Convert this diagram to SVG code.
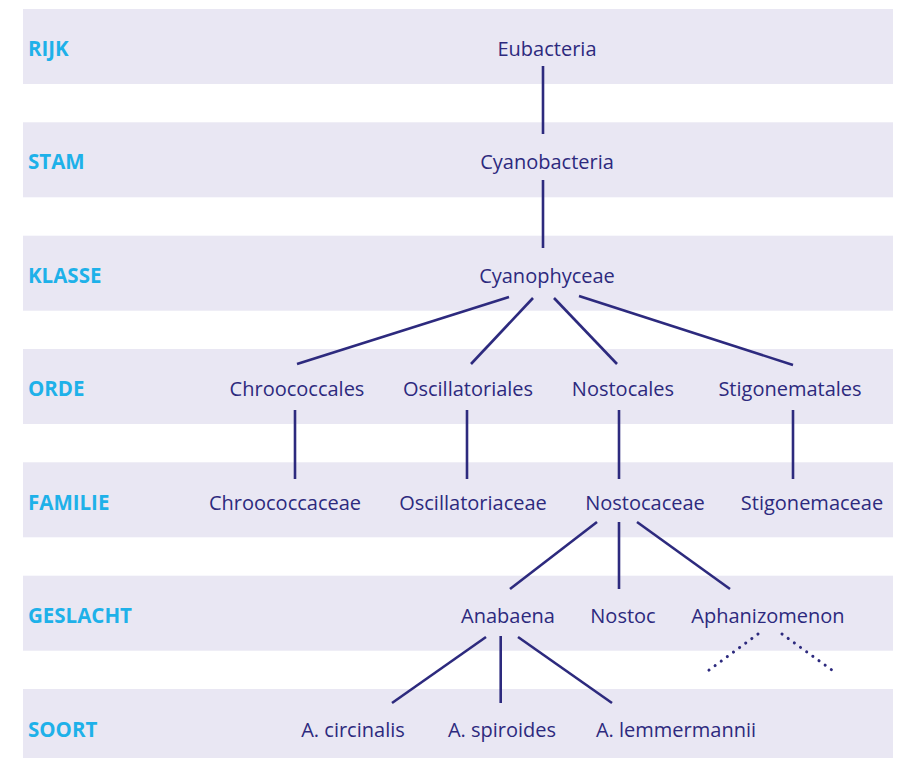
<svg xmlns="http://www.w3.org/2000/svg" width="905" height="758" viewBox="0 0 905 758">
<style>
.band{fill:#e9e7f3}
.lbl{font-family:"Open Sans","Liberation Sans",sans-serif;font-weight:bold;font-size:20.5px;fill:#1eb1e9}
.t{font-family:"Open Sans","Liberation Sans",sans-serif;font-size:20px;fill:#2d2a7e;text-anchor:middle}
.c line{stroke:#2d2a7e;stroke-width:2.6}
.d line{stroke:#2d2a7e;stroke-width:3;stroke-dasharray:0.1 7.5;stroke-linecap:round}
</style>
<rect width="905" height="758" fill="#ffffff"/>
<g id="bands">
<rect class="band" x="23" y="9" width="870" height="75"/>
<rect class="band" x="23" y="122.3" width="870" height="75"/>
<rect class="band" x="23" y="235.7" width="870" height="75"/>
<rect class="band" x="23" y="349" width="870" height="75"/>
<rect class="band" x="23" y="462.3" width="870" height="75"/>
<rect class="band" x="23" y="575.7" width="870" height="75"/>
<rect class="band" x="23" y="689" width="870" height="69"/>
</g>
<g id="ranks">
<text class="lbl" x="28" y="56">RIJK</text>
<text class="lbl" x="28" y="169">STAM</text>
<text class="lbl" x="28" y="283">KLASSE</text>
<text class="lbl" x="28" y="396">ORDE</text>
<text class="lbl" x="28" y="510">FAMILIE</text>
<text class="lbl" x="28" y="623">GESLACHT</text>
<text class="lbl" x="28" y="737">SOORT</text>
</g>
<g id="connectors" class="c">
<line x1="543" y1="66" x2="543" y2="134"/>
<line x1="543" y1="180" x2="543" y2="248"/>
<line x1="509" y1="297" x2="297" y2="364"/>
<line x1="533" y1="298" x2="471" y2="364"/>
<line x1="554" y1="298" x2="617" y2="364"/>
<line x1="579" y1="296" x2="793" y2="365"/>
<line x1="295" y1="410" x2="295" y2="479"/>
<line x1="467" y1="410" x2="467" y2="479"/>
<line x1="619" y1="410" x2="619" y2="479"/>
<line x1="793" y1="410" x2="793" y2="479"/>
<line x1="597" y1="522" x2="510" y2="589"/>
<line x1="619" y1="522" x2="619" y2="589"/>
<line x1="637" y1="522" x2="730" y2="589"/>
<line x1="486" y1="637" x2="392" y2="703"/>
<line x1="500.7" y1="636" x2="500.7" y2="703"/>
<line x1="518" y1="637" x2="612" y2="703"/>
</g>
<g id="dotted" class="d">
<line x1="758" y1="634" x2="705" y2="673"/>
<line x1="782" y1="634" x2="836" y2="673"/>
</g>
<g id="n-eubacteria"><text class="t" x="547" y="56">Eubacteria</text></g>
<g id="n-cyanobacteria"><text class="t" x="547" y="169">Cyanobacteria</text></g>
<g id="n-cyanophyceae"><text class="t" x="547" y="283">Cyanophyceae</text></g>
<g id="n-chroococcales"><text class="t" x="297" y="396">Chroococcales</text></g>
<g id="n-oscillatoriales"><text class="t" x="468" y="396">Oscillatoriales</text></g>
<g id="n-nostocales"><text class="t" x="623" y="396">Nostocales</text></g>
<g id="n-stigonematales"><text class="t" x="790" y="396">Stigonematales</text></g>
<g id="n-chroococcaceae"><text class="t" x="285" y="510">Chroococcaceae</text></g>
<g id="n-oscillatoriaceae"><text class="t" x="473" y="510">Oscillatoriaceae</text></g>
<g id="n-nostocaceae"><text class="t" x="645" y="510">Nostocaceae</text></g>
<g id="n-stigonemaceae"><text class="t" x="812" y="510">Stigonemaceae</text></g>
<g id="n-anabaena"><text class="t" x="508" y="623">Anabaena</text></g>
<g id="n-nostoc"><text class="t" x="623" y="623">Nostoc</text></g>
<g id="n-aphanizomenon"><text class="t" x="768" y="623">Aphanizomenon</text></g>
<g id="n-circinalis"><text class="t" x="353" y="737">A. circinalis</text></g>
<g id="n-spiroides"><text class="t" x="502" y="737">A. spiroides</text></g>
<g id="n-lemmermannii"><text class="t" x="676" y="737">A. lemmermannii</text></g>
</svg>
